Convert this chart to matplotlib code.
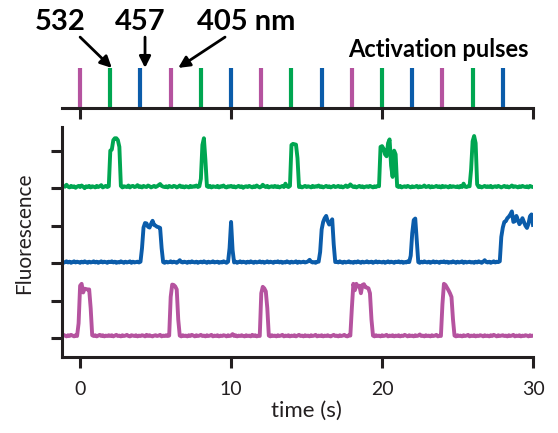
import matplotlib
matplotlib.use("Agg")
import matplotlib.pyplot as plt
import numpy as np

plt.rcParams['font.family'] = ['Lato', 'DejaVu Sans']

# frame times of the traces, 0.1 s per frame
time = np.linspace(-1.0, 30.0, 311)

# fluorescence of the three single molecules, one row per second
green_trace = [
    0.05, 0.09, 0.04, 0.02, 0.06, 0.03, 0.05, 0.01, 0.04, 0.06,
    0.03, 0.07, 0.04, 0.00, 0.05, 0.03, 0.06, 0.02, 0.05, 0.04,
    0.02, 0.06, 0.03, 0.05, 0.08, 0.02, 0.04, 0.06, 0.03, 0.05,
    1.00, 1.03, 1.28, 1.33, 1.33, 1.28, 1.10, 0.06, 0.02, 0.05,
    0.04, 0.03, 0.07, 0.02, 0.05, 0.06, 0.03, 0.04, 0.08, 0.03,
    0.05, 0.02, 0.06, 0.04, 0.03, 0.07, 0.05, 0.02, 0.04, 0.06,
    0.03, 0.05, 0.08, 0.11, 0.06, 0.04, 0.03, 0.05, 0.02, 0.06,
    0.04, 0.03, 0.06, 0.05, 0.02, 0.04, 0.07, 0.03, 0.05, 0.02,
    0.05, 0.04, 0.02, 0.06, 0.03, 0.05, 0.04, 0.07, 0.03, 0.05,
    0.25, 1.15, 1.33, 0.75, 0.05, 0.03, 0.06, 0.02, 0.05, 0.04,
    0.03, 0.06, 0.02, 0.05, 0.04, 0.07, 0.03, 0.02, 0.05, 0.04,
    0.06, 0.03, 0.05, 0.02, 0.04, 0.06, 0.03, 0.05, 0.01, 0.04,
    0.05, 0.03, 0.06, 0.04, 0.02, 0.05, 0.03, 0.07, 0.04, 0.02,
    0.04, 0.09, 0.05, 0.03, 0.06, 0.02, 0.04, 0.05, 0.03, 0.06,
    0.03, 0.05, 0.02, 0.04, 0.06, 0.03, 0.12, 0.05, 0.03, 0.06,
    1.15, 1.18, 1.17, 1.16, 0.80, 0.03, 0.05, 0.02, 0.04, 0.06,
    0.03, 0.05, 0.04, 0.02, 0.06, 0.03, 0.05, 0.04, 0.07, 0.03,
    0.05, 0.02, 0.04, 0.06, 0.03, 0.05, 0.02, 0.04, 0.06, 0.03,
    0.04, 0.06, 0.03, 0.05, 0.02, 0.04, 0.07, 0.03, 0.05, 0.10,
    0.06, 0.03, 0.05, 0.02, 0.04, 0.06, 0.03, 0.05, 0.02, 0.04,
    0.05, 0.03, 0.06, 0.04, 0.02, 0.05, 0.03, 0.06, 0.05, 1.10,
    1.12, 1.05, 0.90, 0.85, 1.20, 1.30, 0.60, 0.30, 1.00, 0.90,
    0.05, 0.03, 0.06, 0.02, 0.04, 0.05, 0.03, 0.06, 0.04, 0.02,
    0.05, 0.03, 0.04, 0.06, 0.02, 0.05, 0.03, 0.04, 0.07, 0.03,
    0.04, 0.06, 0.02, 0.05, 0.03, 0.04, 0.06, 0.03, 0.05, 0.02,
    0.06, 0.03, 0.05, 0.04, 0.02, 0.06, 0.03, 0.05, 0.04, 0.03,
    0.05, 0.02, 0.06, 0.03, 0.12, 0.04, 0.03, 0.05, 0.05, 0.50,
    1.25, 1.39, 1.20, 0.10, 0.03, 0.05, 0.02, 0.04, 0.06, 0.03,
    0.05, 0.03, 0.06, 0.02, 0.04, 0.05, 0.03, 0.06, 0.04, 0.02,
    0.04, 0.06, 0.03, 0.05, 0.02, 0.04, 0.07, 0.03, 0.05, 0.04,
    0.02, 0.05, 0.03, 0.06, 0.04, 0.03, 0.05, 0.02, 0.06, 0.04,
    0.03,
]
blue_trace = [
    0.03, 0.05, 0.02, 0.04, 0.01, 0.03, 0.05, 0.02, 0.04, 0.03,
    0.01, 0.04, 0.02, 0.05, 0.03, 0.01, 0.04, 0.02, 0.03, 0.05,
    0.02, 0.04, 0.01, 0.03, 0.05, 0.02, 0.04, 0.03, 0.01, 0.04,
    0.03, 0.05, 0.02, 0.04, 0.01, 0.03, 0.02, 0.05, 0.03, 0.01,
    0.04, 0.02, 0.03, 0.05, 0.01, 0.04, 0.02, 0.03, 0.04, 0.02,
    0.04, 0.40, 0.95, 1.07, 1.06, 0.97, 0.95, 1.05, 1.13, 1.02,
    1.00, 0.97, 0.96, 0.94, 0.40, 0.03, 0.01, 0.04, 0.02, 0.03,
    0.05, 0.02, 0.04, 0.03, 0.01, 0.04, 0.08, 0.03, 0.02, 0.04,
    0.03, 0.01, 0.04, 0.02, 0.05, 0.03, 0.02, 0.04, 0.01, 0.03,
    0.04, 0.02, 0.05, 0.03, 0.01, 0.04, 0.02, 0.03, 0.05, 0.02,
    0.03, 0.04, 0.01, 0.03, 0.02, 0.05, 0.03, 0.01, 0.04, 0.40,
    1.10, 0.35, 0.02, 0.04, 0.01, 0.03, 0.05, 0.02, 0.04, 0.03,
    0.01, 0.04, 0.02, 0.05, 0.03, 0.01, 0.04, 0.02, 0.03, 0.05,
    0.02, 0.04, 0.01, 0.03, 0.05, 0.02, 0.04, 0.03, 0.01, 0.04,
    0.03, 0.05, 0.02, 0.04, 0.01, 0.03, 0.02, 0.05, 0.03, 0.01,
    0.04, 0.02, 0.03, 0.05, 0.01, 0.04, 0.02, 0.03, 0.04, 0.02,
    0.03, 0.05, 0.09, 0.04, 0.02, 0.03, 0.01, 0.04, 0.04, 0.30,
    0.90, 1.10, 1.20, 1.26, 1.12, 1.03, 1.10, 1.17, 0.50, 0.03,
    0.04, 0.02, 0.05, 0.03, 0.01, 0.04, 0.02, 0.03, 0.05, 0.02,
    0.03, 0.01, 0.04, 0.02, 0.05, 0.03, 0.01, 0.04, 0.02, 0.03,
    0.05, 0.02, 0.03, 0.04, 0.01, 0.03, 0.05, 0.02, 0.04, 0.03,
    0.02, 0.04, 0.01, 0.03, 0.05, 0.02, 0.04, 0.03, 0.01, 0.04,
    0.03, 0.05, 0.02, 0.04, 0.01, 0.03, 0.02, 0.05, 0.03, 0.20,
    0.80, 1.15, 1.19, 0.60, 0.03, 0.01, 0.04, 0.02, 0.05, 0.03,
    0.02, 0.04, 0.01, 0.03, 0.05, 0.02, 0.04, 0.03, 0.01, 0.04,
    0.03, 0.05, 0.02, 0.04, 0.01, 0.03, 0.02, 0.05, 0.03, 0.01,
    0.04, 0.02, 0.03, 0.05, 0.01, 0.04, 0.02, 0.03, 0.04, 0.02,
    0.03, 0.01, 0.04, 0.02, 0.05, 0.03, 0.01, 0.04, 0.08, 0.03,
    0.02, 0.04, 0.01, 0.03, 0.05, 0.02, 0.04, 0.03, 0.05, 0.70,
    0.95, 1.10, 1.12, 1.20, 1.24, 1.30, 1.38, 1.10, 1.12, 1.26,
    1.15, 1.04, 1.10, 1.20, 1.10, 1.00, 0.94, 1.05, 1.25, 1.30,
    1.02,
]
magenta_trace = [
    0.07, 0.05, 0.08, 0.06, 0.09, 0.07, 0.05, 0.08, 0.06, 0.40,
    1.40, 1.45, 1.22, 1.32, 1.31, 1.30, 1.30, 0.80, 0.08, 0.06,
    0.08, 0.05, 0.07, 0.09, 0.06, 0.08, 0.05, 0.07, 0.06, 0.08,
    0.06, 0.08, 0.05, 0.07, 0.09, 0.06, 0.07, 0.05, 0.08, 0.06,
    0.07, 0.09, 0.06, 0.05, 0.08, 0.07, 0.06, 0.08, 0.05, 0.07,
    0.06, 0.08, 0.07, 0.05, 0.09, 0.06, 0.08, 0.06, 0.05, 0.07,
    0.08, 0.06, 0.07, 0.09, 0.05, 0.07, 0.06, 0.08, 0.06, 0.07,
    1.10, 1.43, 1.42, 1.38, 1.30, 0.50, 0.07, 0.05, 0.08, 0.06,
    0.07, 0.05, 0.08, 0.06, 0.09, 0.07, 0.05, 0.08, 0.06, 0.07,
    0.09, 0.06, 0.07, 0.05, 0.08, 0.06, 0.07, 0.09, 0.05, 0.07,
    0.06, 0.08, 0.05, 0.07, 0.06, 0.08, 0.07, 0.05, 0.08, 0.06,
    0.07, 0.11, 0.06, 0.08, 0.05, 0.07, 0.06, 0.08, 0.06, 0.05,
    0.08, 0.06, 0.07, 0.05, 0.09, 0.06, 0.08, 0.05, 0.07, 0.06,
    1.20, 1.37, 1.33, 1.25, 0.80, 0.07, 0.05, 0.08, 0.06, 0.07,
    0.05, 0.08, 0.06, 0.07, 0.09, 0.05, 0.07, 0.06, 0.08, 0.05,
    0.07, 0.06, 0.08, 0.05, 0.07, 0.09, 0.06, 0.07, 0.05, 0.08,
    0.06, 0.07, 0.05, 0.08, 0.06, 0.07, 0.09, 0.05, 0.07, 0.06,
    0.08, 0.05, 0.07, 0.06, 0.08, 0.06, 0.05, 0.07, 0.09, 0.06,
    0.07, 0.05, 0.08, 0.06, 0.07, 0.09, 0.06, 0.05, 0.08, 0.07,
    0.80, 1.45, 1.28, 1.45, 1.38, 1.40, 1.20, 1.42, 1.44, 1.36,
    1.35, 1.33, 1.20, 0.50, 0.07, 0.05, 0.08, 0.06, 0.07, 0.05,
    0.08, 0.06, 0.07, 0.09, 0.05, 0.07, 0.06, 0.08, 0.05, 0.07,
    0.06, 0.08, 0.05, 0.07, 0.06, 0.09, 0.07, 0.05, 0.08, 0.06,
    0.07, 0.05, 0.08, 0.06, 0.07, 0.10, 0.06, 0.07, 0.05, 0.08,
    0.06, 0.07, 0.05, 0.08, 0.06, 0.07, 0.09, 0.05, 0.07, 0.06,
    0.90, 1.45, 1.42, 1.35, 1.28, 1.20, 1.10, 0.50, 0.07, 0.05,
    0.08, 0.06, 0.07, 0.05, 0.08, 0.06, 0.07, 0.09, 0.05, 0.07,
    0.06, 0.08, 0.05, 0.07, 0.06, 0.08, 0.07, 0.05, 0.08, 0.06,
    0.07, 0.05, 0.08, 0.06, 0.09, 0.07, 0.05, 0.08, 0.06, 0.07,
    0.08, 0.06, 0.07, 0.05, 0.08, 0.06, 0.07, 0.09, 0.05, 0.07,
    0.06, 0.08, 0.05, 0.07, 0.06, 0.08, 0.07, 0.05, 0.08, 0.06,
    0.07,
]

# activation pulse sequence (s) and the laser of each pulse (nm)
pulse_times = [0, 2, 4, 6, 8, 10, 12, 14, 16, 18, 20, 22, 24, 26, 28]
pulse_lasers = ['405', '532', '457'] * 5
laser_names = ['532', '457', '405 nm']

green = '#00A651'
blue = '#0B5CAA'
magenta = '#B5539F'
ink = '#231F20'
laser_colors = {'405': magenta, '532': green, '457': blue}

fig = plt.figure(figsize=(5.58, 4.33), dpi=100)
ax = fig.add_axes([0.1111, 0.1755, 0.8441, 0.5312])
ax_top = fig.add_axes([0.1111, 0.7517, 0.8441, 0.0924], sharex=ax)

# stacked traces
ax.plot(time, np.array(magenta_trace), color=magenta, lw=2.8)
ax.plot(time, np.array(blue_trace) + 2, color=blue, lw=2.8)
ax.plot(time, np.array(green_trace) + 4, color=green, lw=2.8)

ax.set_xlim(-1.2, 30)
ax.set_ylim(-0.5, 5.63)
ax.set_xticks([0, 10, 20, 30])
ax.set_yticks([0, 1, 2, 3, 4, 5])
ax.set_yticklabels([])
for side in ['top', 'right']:
    ax.spines[side].set_visible(False)
for side in ['left', 'bottom']:
    ax.spines[side].set_linewidth(2.2)
    ax.spines[side].set_color(ink)
ax.tick_params(direction='out', length=8, width=2.2, color=ink,
               labelsize=14, labelcolor=ink, pad=9)
ax.set_xlabel('time (s)', fontsize=16, color=ink)
ax.xaxis.set_label_coords(0.52, -0.19)
ax.set_ylabel('Fluorescence', fontsize=15, color=ink)
ax.yaxis.set_label_coords(-0.06, 0.54)

# activation pulses
pulse_colors = [laser_colors[p] for p in pulse_lasers]
lines = ax_top.vlines(pulse_times, 0, 1, colors=pulse_colors, lw=3.0)
lines.set_capstyle('round')
ax_top.set_ylim(0, 1)
for side in ['top', 'right', 'left']:
    ax_top.spines[side].set_visible(False)
ax_top.spines['bottom'].set_linewidth(2.2)
ax_top.spines['bottom'].set_color(ink)
ax_top.spines['bottom'].set_zorder(3)
ax_top.set_yticks([])
ax_top.tick_params(axis='x', direction='out', length=8, width=2.2,
                   color=ink, labelbottom=False)

ax_top.text(29.7, 1.27, 'Activation pulses', ha='right', va='baseline',
            fontsize=17, fontweight='bold', color='black')

# laser labels with arrows pointing at the first pulse of each colour
arrow = dict(arrowstyle='-|>', color='black', lw=2, mutation_scale=17,
             shrinkA=0, shrinkB=0)
ax_top.annotate('', xy=(2.1, 0.99), xytext=(0.0, 1.76), arrowprops=arrow)
ax_top.annotate('', xy=(4.3, 0.99), xytext=(4.3, 1.76), arrowprops=arrow)
ax_top.annotate('', xy=(6.5, 0.99), xytext=(9.6, 1.76), arrowprops=arrow)
ax_top.text(-1.32, 1.94, laser_names[0], ha='center', va='baseline',
            fontsize=21, fontweight='bold', color='black')
ax_top.text(3.97, 1.94, laser_names[1], ha='center', va='baseline',
            fontsize=21, fontweight='bold', color='black')
ax_top.text(7.73, 1.94, laser_names[2], ha='left', va='baseline',
            fontsize=21, fontweight='bold', color='black')

fig.savefig('out.png', dpi=100)
